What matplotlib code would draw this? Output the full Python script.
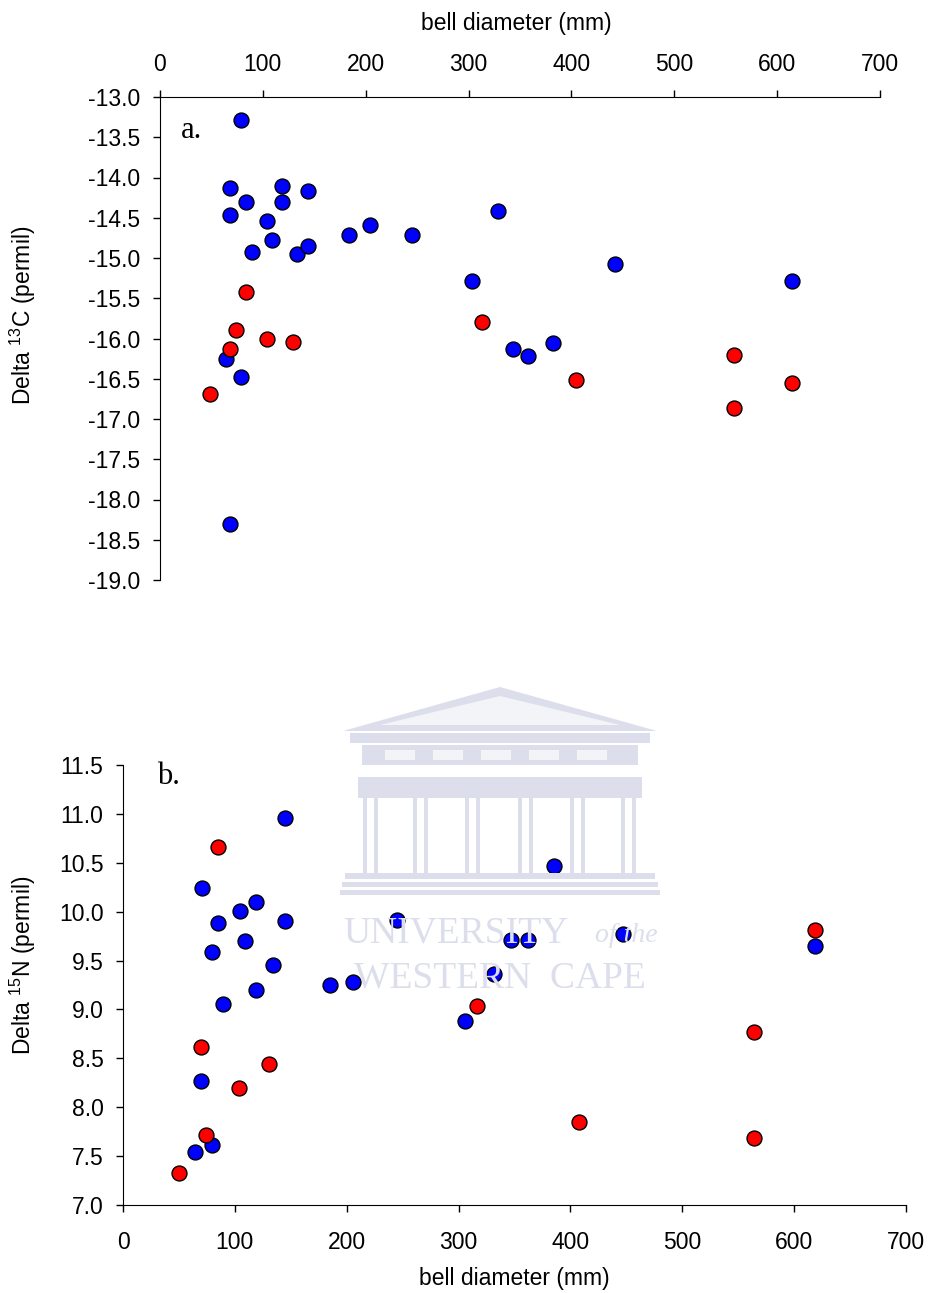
import matplotlib
matplotlib.use('Agg')
import matplotlib.pyplot as plt
from matplotlib.patches import Polygon, Rectangle

plt.rcParams['font.family'] = ['Liberation Sans', 'DejaVu Sans']
plt.rcParams['mathtext.fontset'] = 'custom'
plt.rcParams['mathtext.rm'] = 'Liberation Sans'
plt.rcParams['mathtext.default'] = 'regular'

# panel a: delta 13C vs bell diameter
c_blue_x = [78.7, 68.0, 83.3, 118.6, 144.2, 119.0, 68.4, 103.7, 108.9, 89.1, 133.5, 144.2,
            183.7, 204.2, 244.7, 328.3, 303.0, 64.2, 343.5, 357.5, 78.7, 68.0, 442.3, 614.1, 381.8]
c_blue_y = [-13.28, -14.13, -14.31, -14.10, -14.17, -14.31, -14.46, -14.54, -14.78, -14.93, -14.95, -14.85,
            -14.72, -14.59, -14.72, -14.42, -15.29, -16.25, -16.13, -16.22, -16.48, -18.30, -15.08, -15.29, -16.06]
c_red_x = [83.3, 74.2, 103.7, 129.0, 68.0, 313.3, 48.9, 404.1, 557.8, 614.1, 557.8]
c_red_y = [-15.42, -15.89, -16.01, -16.04, -16.13, -15.80, -16.69, -16.52, -16.21, -16.55, -16.86]

# panel b: delta 15N vs bell diameter
n_blue_x = [144.8, 70.3, 118.9, 104.3, 84.9, 144.8, 109.3, 79.8, 133.8, 118.9, 89.4, 70.0,
            79.8, 64.6, 385.2, 245.4, 346.9, 362.1, 447.0, 331.7, 184.9, 205.2, 305.7, 618.8]
n_blue_y = [10.955, 10.24, 10.10, 10.01, 9.88, 9.90, 9.70, 9.59, 9.45, 9.20, 9.06, 8.27,
            7.61, 7.54, 10.47, 9.91, 9.71, 9.71, 9.77, 9.36, 9.25, 9.28, 8.88, 9.65]
n_red_x = [84.9, 70.0, 130.2, 104.0, 74.2, 49.8, 316.7, 618.8, 564.0, 407.4, 564.0]
n_red_y = [10.66, 8.62, 8.44, 8.20, 7.72, 7.33, 9.04, 9.81, 8.77, 7.85, 7.69]

x_ticks = [0, 100, 200, 300, 400, 500, 600, 700]
c_ticks = [-13.0, -13.5, -14.0, -14.5, -15.0, -15.5, -16.0, -16.5, -17.0, -17.5, -18.0, -18.5, -19.0]
n_ticks = [7.0, 7.5, 8.0, 8.5, 9.0, 9.5, 10.0, 10.5, 11.0, 11.5]

FS = 16.5
W, H = 932, 1293
fig = plt.figure(figsize=(W / 100, H / 100), dpi=100)


def px(x, y):
    return (x / W, 1 - y / H)


# faint university watermark behind panel b
wm = '#dcdfeb'
wm_in = '#f3f4f8'
fig.patches.append(Polygon([px(343, 731), px(500, 687), px(657, 731)], closed=True,
                           transform=fig.transFigure, fc=wm, ec='none', zorder=0))
fig.patches.append(Polygon([px(380, 725), px(500, 696), px(620, 725)], closed=True,
                           transform=fig.transFigure, fc=wm_in, ec='none', zorder=0))
for (x0, y0, x1, y1, c) in [(350, 733, 650, 743, wm), (362, 745, 638, 765, wm),
                            (358, 777, 642, 798, wm), (345, 873, 655, 879, wm),
                            (342, 882, 658, 887, wm), (340, 890, 660, 895, wm)]:
    fig.patches.append(Rectangle(px(x0, y1), (x1 - x0) / W, (y1 - y0) / H,
                                 transform=fig.transFigure, fc=c, ec='none', zorder=0))
for cx in [370, 420, 472, 525, 577, 628]:
    for dx in [-7, 4]:
        fig.patches.append(Rectangle(px(cx + dx, 873), 4 / W, 75 / H,
                                     transform=fig.transFigure, fc=wm, ec='none', zorder=0))
for wx in [385, 433, 481, 529, 577]:
    fig.patches.append(Rectangle(px(wx, 760), 30 / W, 10 / H,
                                 transform=fig.transFigure, fc=wm_in, ec='none', zorder=0))
fig.text(343 / W, 1 - 933 / H, 'UNIVERSITY', family='Liberation Serif', fontsize=27,
         color=wm, va='center', ha='left', zorder=0)
fig.text(658 / W, 1 - 935 / H, 'of the', family='Liberation Serif', style='italic',
         fontsize=20, color=wm, va='center', ha='right', zorder=0)
fig.text(500 / W, 1 - 978 / H, 'WESTERN  CAPE', family='Liberation Serif', fontsize=27,
         color=wm, va='center', ha='center', zorder=0)

pt_style = dict(s=115, edgecolors='black', linewidths=1.0, zorder=3, clip_on=False)

# ---- panel a ----
ax1 = fig.add_axes([160 / W, 1 - 580 / H, 720 / W, 483 / H])
ax1.set_facecolor('none')
ax1.scatter(c_blue_x, c_blue_y, color='#0000ff', **pt_style)
ax1.scatter(c_red_x, c_red_y, color='#ff0000', **pt_style)
ax1.set_xlim(0, 700)
ax1.set_ylim(-19, -13)
ax1.set_xticks(x_ticks)
ax1.set_yticks(c_ticks)
ax1.set_yticklabels(['%.1f' % v for v in c_ticks])
ax1.xaxis.tick_top()
ax1.xaxis.set_label_position('top')
ax1.spines['bottom'].set_visible(False)
ax1.spines['right'].set_visible(False)
ax1.tick_params(direction='out', length=5, width=1, labelsize=FS)
ax1.tick_params(axis='x', pad=10)
ax1.tick_params(axis='y', pad=9)
ax1.set_xlabel('bell diameter (mm)', fontsize=FS)
ax1.xaxis.set_label_coords(0.495, 1.139)
ax1.set_ylabel('Delta $^{13}$C (permil)', fontsize=FS)
ax1.yaxis.set_label_coords(-0.169, 0.549)
ax1.text(32 / 720, 1 - 33 / 483, 'a.', transform=ax1.transAxes, family='Liberation Serif',
         fontsize=22, va='center', ha='center')

# ---- panel b ----
ax2 = fig.add_axes([123 / W, 1 - 1205 / H, 783 / W, 440 / H])
ax2.set_facecolor('none')
ax2.scatter(n_blue_x, n_blue_y, color='#0000ff', **pt_style)
ax2.scatter(n_red_x, n_red_y, color='#ff0000', **pt_style)
ax2.set_xlim(0, 700)
ax2.set_ylim(7, 11.5)
ax2.set_xticks(x_ticks)
ax2.set_yticks(n_ticks)
ax2.set_yticklabels(['%.1f' % v for v in n_ticks])
ax2.spines['top'].set_visible(False)
ax2.spines['right'].set_visible(False)
ax2.tick_params(direction='out', length=5, width=1, labelsize=FS)
ax2.tick_params(axis='x', pad=14)
ax2.tick_params(axis='y', pad=9)
ax2.set_xlabel('bell diameter (mm)', fontsize=FS)
ax2.xaxis.set_label_coords(0.5, -0.141)
ax2.set_ylabel('Delta $^{15}$N (permil)', fontsize=FS)
ax2.yaxis.set_label_coords(-0.1086, 0.545)
ax2.text(45 / 783, 1 - 12 / 440, 'b.', transform=ax2.transAxes, family='Liberation Serif',
         fontsize=22, va='center', ha='center')

fig.savefig('out.png', dpi=100)
